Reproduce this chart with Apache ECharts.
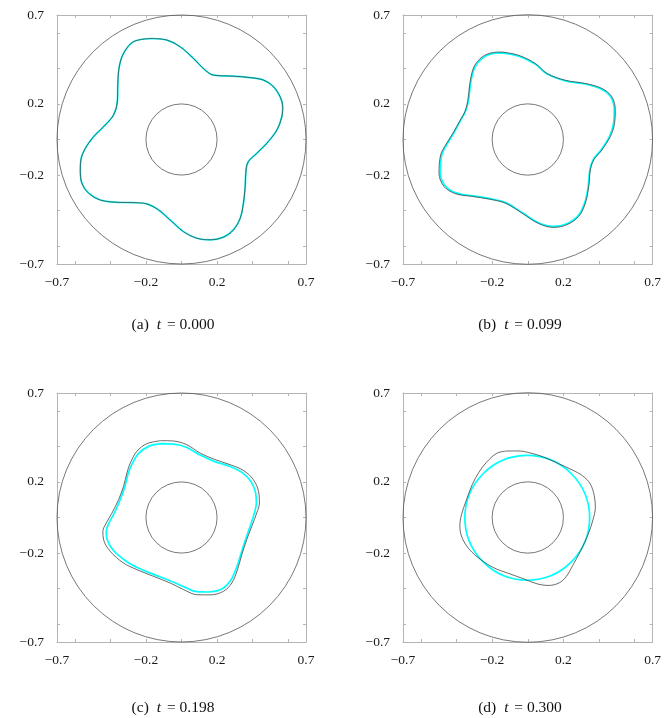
<!DOCTYPE html>
<html>
<head>
<meta charset="utf-8">
<script src="https://cdn.jsdelivr.net/npm/echarts@6/dist/echarts.min.js"></script>
<style>html,body{margin:0;padding:0;background:#fff;}#c{width:664px;height:718px;}</style>
</head>
<body>
<div id="c"></div>
<script>
// ---- data ----
const axisMin = -0.7, axisMax = 0.7;
const minorTicks = [-0.6, -0.4, -0.2, 0, 0.2, 0.4, 0.6];
const tickLabels = [-0.7, -0.2, 0.2, 0.7];
const ringCircles = [[0, 0, 0.7], [0, 0, 0.2]];
const panelLetters = ['(a)', '(b)', '(c)', '(d)'];
const panelTimes = ['0.000', '0.099', '0.198', '0.300'];

const blackA = [[-0.167,0.568],[-0.082,0.559],[-0.007,0.521],[0.067,0.456],[0.133,0.390],[0.180,0.362],[0.292,0.356],[0.386,0.348],[0.461,0.334],[0.517,0.297],[0.554,0.241],[0.569,0.184],[0.564,0.128],[0.536,0.053],[0.479,-0.022],[0.423,-0.078],[0.376,-0.124],[0.363,-0.171],[0.358,-0.265],[0.348,-0.359],[0.330,-0.443],[0.292,-0.508],[0.236,-0.549],[0.161,-0.564],[0.086,-0.555],[0.011,-0.518],[-0.064,-0.452],[-0.129,-0.396],[-0.195,-0.362],[-0.270,-0.355],[-0.363,-0.353],[-0.457,-0.340],[-0.522,-0.302],[-0.560,-0.246],[-0.569,-0.171],[-0.566,-0.115],[-0.541,-0.050],[-0.494,0.016],[-0.438,0.072],[-0.382,0.138],[-0.360,0.222],[-0.358,0.316],[-0.350,0.409],[-0.326,0.484],[-0.270,0.550],[-0.167,0.568]];
const cyanA = blackA;

const blackB = [[-0.144,0.492],[-0.050,0.473],[0.043,0.427],[0.108,0.371],[0.211,0.333],[0.323,0.315],[0.416,0.287],[0.472,0.240],[0.491,0.165],[0.487,0.091],[0.463,0.016],[0.416,-0.059],[0.370,-0.115],[0.351,-0.171],[0.342,-0.264],[0.323,-0.357],[0.286,-0.432],[0.220,-0.479],[0.146,-0.494],[0.062,-0.473],[-0.032,-0.414],[-0.125,-0.358],[-0.218,-0.335],[-0.312,-0.320],[-0.405,-0.305],[-0.470,-0.264],[-0.498,-0.189],[-0.489,-0.087],[-0.461,-0.031],[-0.420,0.035],[-0.379,0.109],[-0.353,0.156],[-0.336,0.221],[-0.325,0.315],[-0.302,0.408],[-0.256,0.464],[-0.200,0.488],[-0.144,0.492]];
const cyanB = [[-0.144,0.487],[-0.050,0.468],[0.043,0.423],[0.108,0.368],[0.211,0.330],[0.323,0.312],[0.414,0.283],[0.467,0.237],[0.485,0.165],[0.481,0.091],[0.458,0.016],[0.412,-0.057],[0.367,-0.113],[0.348,-0.171],[0.339,-0.264],[0.320,-0.355],[0.283,-0.428],[0.218,-0.474],[0.146,-0.489],[0.062,-0.469],[-0.032,-0.411],[-0.125,-0.355],[-0.218,-0.331],[-0.312,-0.316],[-0.403,-0.300],[-0.464,-0.260],[-0.491,-0.187],[-0.483,-0.087],[-0.456,-0.031],[-0.416,0.035],[-0.376,0.109],[-0.350,0.156],[-0.332,0.221],[-0.321,0.315],[-0.298,0.404],[-0.253,0.459],[-0.200,0.483],[-0.144,0.487]];

const blackC = [[-0.114,0.432],[-0.045,0.430],[0.030,0.409],[0.105,0.362],[0.180,0.329],[0.273,0.297],[0.348,0.265],[0.404,0.213],[0.433,0.147],[0.438,0.081],[0.423,0.025],[0.395,-0.050],[0.367,-0.124],[0.339,-0.209],[0.315,-0.293],[0.283,-0.368],[0.236,-0.415],[0.161,-0.435],[0.086,-0.434],[0.011,-0.405],[-0.064,-0.368],[-0.157,-0.331],[-0.251,-0.293],[-0.326,-0.256],[-0.401,-0.190],[-0.438,-0.125],[-0.442,-0.078],[-0.423,-0.031],[-0.391,0.025],[-0.354,0.100],[-0.326,0.175],[-0.307,0.250],[-0.288,0.306],[-0.251,0.372],[-0.195,0.415],[-0.114,0.432]];
const cyanC = [[-0.109,0.415],[-0.045,0.413],[0.030,0.394],[0.105,0.351],[0.180,0.317],[0.273,0.287],[0.339,0.254],[0.390,0.204],[0.416,0.141],[0.421,0.081],[0.410,0.025],[0.386,-0.050],[0.360,-0.124],[0.333,-0.209],[0.307,-0.289],[0.273,-0.359],[0.227,-0.402],[0.157,-0.419],[0.086,-0.417],[0.015,-0.390],[-0.060,-0.357],[-0.154,-0.321],[-0.243,-0.284],[-0.315,-0.243],[-0.386,-0.181],[-0.419,-0.121],[-0.423,-0.078],[-0.408,-0.031],[-0.378,0.025],[-0.345,0.100],[-0.318,0.175],[-0.300,0.246],[-0.279,0.299],[-0.242,0.359],[-0.185,0.400],[-0.109,0.415]];

const blackD = [[-0.118,0.374],[-0.050,0.374],[0.013,0.363],[0.080,0.343],[0.174,0.302],[0.248,0.268],[0.308,0.234],[0.351,0.188],[0.373,0.122],[0.379,0.057],[0.366,-0.012],[0.338,-0.096],[0.297,-0.186],[0.252,-0.270],[0.215,-0.333],[0.177,-0.367],[0.118,-0.382],[0.052,-0.373],[-0.022,-0.345],[-0.106,-0.315],[-0.190,-0.283],[-0.265,-0.236],[-0.327,-0.180],[-0.368,-0.115],[-0.381,-0.049],[-0.372,0.016],[-0.345,0.096],[-0.312,0.184],[-0.275,0.253],[-0.233,0.309],[-0.174,0.361],[-0.118,0.374]];
const cyanCircleD = [[-0.003, -0.002, 0.35]];

// ---- layout ----
const grids = [
  {left: 57, top: 15, width: 249, height: 249},
  {left: 403, top: 15, width: 250, height: 249},
  {left: 57, top: 393, width: 249, height: 249},
  {left: 403, top: 393, width: 250, height: 249}
];
const captionPos = [[173, 325], [520, 325], [173, 708], [520, 708]];

const FONT = '"Liberation Serif", "DejaVu Serif", serif';
const fmt = v => (v < 0 ? '\u2212' + Math.abs(v) : String(v));

function axis(gi, pos, isX, labels) {
  return {
    type: 'value', gridIndex: gi, position: pos,
    min: axisMin, max: axisMax,
    axisLine: {show: true, onZero: false, lineStyle: {color: '#b4b4b4', width: 1}},
    axisTick: {show: true, inside: true, length: 3, customValues: minorTicks,
               lineStyle: {color: '#b4b4b4', width: 1}},
    axisLabel: labels ? {show: true, customValues: tickLabels, formatter: fmt,
               fontFamily: FONT, fontSize: 13.5, color: '#1a1a1a', margin: isX ? 11 : 13,
               showMinLabel: true, showMaxLabel: true} : {show: false},
    splitLine: {show: false}
  };
}

const xAxes = [], yAxes = [], series = [];
grids.forEach((g, i) => {
  xAxes.push(axis(i, 'bottom', true, true));
  xAxes.push(axis(i, 'top', true, false));
  yAxes.push(axis(i, 'left', false, true));
  yAxes.push(axis(i, 'right', false, false));
});

function circleSeries(i, data, color, width) {
  return {
    type: 'custom', xAxisIndex: 2 * i, yAxisIndex: 2 * i, data: data, clip: false,
    encode: {x: 0, y: 1},
    renderItem: function (params, api) {
      const c = api.coord([api.value(0), api.value(1)]);
      const r = api.size([api.value(2), 0])[0];
      return {type: 'circle', shape: {cx: c[0], cy: c[1], r: r},
              style: {fill: 'none', stroke: color, lineWidth: width}};
    },
    silent: true
  };
}
function curveSeries(i, data, color, width) {
  return {
    type: 'line', xAxisIndex: 2 * i, yAxisIndex: 2 * i, data: data,
    showSymbol: false, smooth: 0.35, clip: false, silent: true,
    lineStyle: {color: color, width: width}
  };
}

const cyans = [cyanA, cyanB, cyanC, null];
const blacks = [blackA, blackB, blackC, blackD];
for (let i = 0; i < 4; i++) {
  series.push(circleSeries(i, ringCircles, '#555', 0.8));
  if (cyans[i]) series.push(curveSeries(i, cyans[i], '#00ffff', 1.7));
  else series.push(circleSeries(i, cyanCircleD, '#00ffff', 1.7));
  series.push(curveSeries(i, blacks[i], '#444', 0.8));
}

const graphics = captionPos.map((p, i) => ({
  type: 'text', x: p[0], y: p[1],
  style: {
    text: panelLetters[i] + ' {it|t} = ' + panelTimes[i],
    rich: {it: {fontStyle: 'italic', fontFamily: FONT, fontSize: 15.5, fill: '#111', padding: [0, 2, 0, 4]}},
    fontFamily: FONT, fontSize: 15.5, fill: '#111',
    textAlign: 'center', textVerticalAlign: 'middle'
  }
}));

const chart = echarts.init(document.getElementById('c'), null, {renderer: 'canvas'});
chart.setOption({
  animation: false,
  backgroundColor: '#fff',
  grid: grids,
  xAxis: xAxes,
  yAxis: yAxes,
  series: series,
  graphic: graphics
});
</script>
</body>
</html>
